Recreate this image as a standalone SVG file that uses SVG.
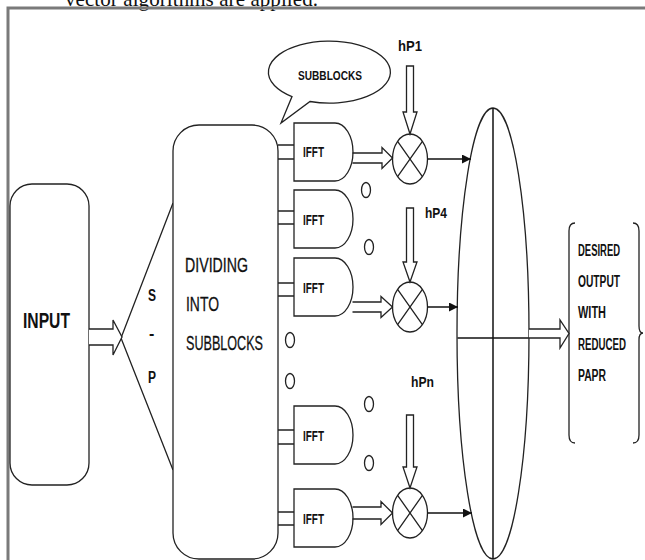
<svg xmlns="http://www.w3.org/2000/svg" width="645" height="560" viewBox="0 0 645 560">
<defs>
<style>
.s{fill:none;stroke:#222;stroke-width:1.3}
.w{fill:#fff;stroke:#222;stroke-width:1.3}
.t{font-family:"Liberation Sans",Arial,sans-serif;fill:#111}
.b{font-weight:bold}
.c{stroke:#111;stroke-width:1.5;fill:none}
</style>
<marker id="ah" viewBox="0 0 10 10" refX="10" refY="5" markerWidth="9" markerHeight="9" markerUnits="userSpaceOnUse" orient="auto">
<path d="M0,0 L10,5 L0,10 Z" fill="#111"/>
</marker>
<path id="gate" d="M0,0 H41 A18 29 0 0 1 41,58 H0 Z"/>
</defs>
<rect width="645" height="560" fill="#fff"/>
<text x="65" y="6" font-family="Liberation Serif,serif" font-size="21" textLength="253" fill="#111">vector algorithms are applied.</text>
<rect x="8" y="8" width="660" height="600" fill="none" stroke="#7a7a7a" stroke-width="3"/>

<g id="input">
<rect class="w" x="10" y="184" width="79" height="301" rx="22"/>
<text class="t b" x="23" y="328" font-size="22" textLength="47" lengthAdjust="spacingAndGlyphs">INPUT</text>
</g>

<g id="sp">
<path class="s" d="M173,203 L121,338 L173,470"/>
<text class="t b" x="148" y="301" font-size="16" textLength="8" lengthAdjust="spacingAndGlyphs">S</text>
<text class="t b" x="149" y="339" font-size="16">-</text>
<text class="t b" x="148" y="383" font-size="16" textLength="8" lengthAdjust="spacingAndGlyphs">P</text>
</g>

<g id="dividing">
<rect class="w" x="173" y="125" width="105" height="434" rx="26"/>
<text class="t" x="185" y="272" font-size="21" textLength="63" lengthAdjust="spacingAndGlyphs" stroke="#111" stroke-width="0.3">DIVIDING</text>
<text class="t" x="186" y="311" font-size="21" textLength="33" lengthAdjust="spacingAndGlyphs" stroke="#111" stroke-width="0.3">INTO</text>
<text class="t" x="186" y="350" font-size="21" textLength="77" lengthAdjust="spacingAndGlyphs" stroke="#111" stroke-width="0.3">SUBBLOCKS</text>
</g>

<g id="bubble">
<path class="w" d="M292,96.6 A61 31 0 1 1 310,101.5 L281,123 Z"/>
<text class="t b" x="298" y="80" font-size="13" textLength="64" lengthAdjust="spacingAndGlyphs">SUBBLOCKS</text>
</g>

<g id="ifft1"><use href="#gate" class="w" x="294" y="123"/><text class="t b" x="303" y="157" font-size="15" textLength="21" lengthAdjust="spacingAndGlyphs">IFFT</text></g>
<g id="ifft2"><use href="#gate" class="w" x="294" y="190"/><text class="t b" x="303" y="225" font-size="15" textLength="21" lengthAdjust="spacingAndGlyphs">IFFT</text></g>
<g id="ifft3"><use href="#gate" class="w" x="294" y="258"/><text class="t b" x="303" y="293" font-size="15" textLength="21" lengthAdjust="spacingAndGlyphs">IFFT</text></g>
<g id="ifft4"><use href="#gate" class="w" x="294" y="406"/><text class="t b" x="303" y="441" font-size="15" textLength="21" lengthAdjust="spacingAndGlyphs">IFFT</text></g>
<g id="ifft5"><use href="#gate" class="w" x="294" y="489"/><text class="t b" x="303" y="524" font-size="15" textLength="21" lengthAdjust="spacingAndGlyphs">IFFT</text></g>

<g id="dots" class="s">
<ellipse cx="366" cy="190" rx="4.5" ry="7.5"/>
<ellipse cx="369" cy="247" rx="4.5" ry="7.5"/>
<ellipse cx="290" cy="340" rx="4.5" ry="7.5"/>
<ellipse cx="290" cy="381" rx="4.5" ry="7.5"/>
<ellipse cx="369" cy="404" rx="4.5" ry="7.5"/>
<ellipse cx="369" cy="463" rx="4.5" ry="7.5"/>
</g>

<g id="mult1"><ellipse class="w" cx="410" cy="159" rx="17.5" ry="25"/><path class="s" d="M397.6,141.3 L422.4,176.7 M422.4,141.3 L397.6,176.7"/></g>
<g id="mult2"><ellipse class="w" cx="410" cy="307" rx="17.5" ry="25"/><path class="s" d="M397.6,289.3 L422.4,324.7 M422.4,289.3 L397.6,324.7"/></g>
<g id="mult3"><ellipse class="w" cx="410" cy="513" rx="17.5" ry="25"/><path class="s" d="M397.6,495.3 L422.4,530.7 M422.4,495.3 L397.6,530.7"/></g>

<g id="hp1"><text class="t b" x="398" y="51" font-size="14" textLength="24" lengthAdjust="spacingAndGlyphs">hP1</text></g>
<g id="hp4"><text class="t b" x="425" y="218" font-size="14" textLength="22" lengthAdjust="spacingAndGlyphs">hP4</text></g>
<g id="hpn"><text class="t b" x="411" y="387" font-size="14" textLength="23" lengthAdjust="spacingAndGlyphs">hPn</text></g>

<g id="sum">
<ellipse class="w" cx="493" cy="333.5" rx="36" ry="225.5"/>
<line class="c" x1="493" y1="108" x2="493" y2="559" stroke-width="1.3"/>
<line class="c" x1="457.5" y1="338" x2="528.8" y2="338" stroke-width="1.6"/>
</g>

<g id="output">
<path class="s" d="M575,223 Q569,223 569,231 V435 Q569,443 575,443"/>
<path class="s" d="M633,223 Q639,223 639,231 V326 Q639,333 643,333 Q639,333 639,340 V435 Q639,443 633,443"/>
<text class="t b" x="578" y="256" font-size="16" textLength="42" lengthAdjust="spacingAndGlyphs">DESIRED</text>
<text class="t b" x="578" y="287" font-size="16" textLength="42" lengthAdjust="spacingAndGlyphs">OUTPUT</text>
<text class="t b" x="578" y="318" font-size="16" textLength="28" lengthAdjust="spacingAndGlyphs">WITH</text>
<text class="t b" x="578" y="350" font-size="16" textLength="48" lengthAdjust="spacingAndGlyphs">REDUCED</text>
<text class="t b" x="578" y="381" font-size="16" textLength="28" lengthAdjust="spacingAndGlyphs">PAPR</text>
</g>

<g id="connectors">
<path class="s" d="M278,145 H294 M278,159 H294"/>
<path class="s" d="M278,211 H294 M278,224 H294"/>
<path class="s" d="M278,283 H294 M278,296 H294"/>
<path class="s" d="M278,430 H294 M278,444 H294"/>
<path class="s" d="M278,512 H294 M278,525 H294"/>
<path class="w" d="M89,329 H113 V320 L122,337 L113,355 V345 H89"/>
<path class="s" d="M352.5,153 H382 V147.5 L392.5,158 L382,168.5 V163 H352.5"/>
<path class="s" d="M352.5,302 H381 V296.5 L392.5,307 L381,317.5 V312 H352.5"/>
<path class="s" d="M352.5,507 H381 V501.5 L392.5,513 L381,524.5 V519 H352.5"/>
<path class="w" d="M406.5,66 V112 H403 L410,134 L417,112 H413.5 V66 Z"/>
<path class="w" d="M406.5,208 V262 H403 L410,282 L417,262 H413.5 V208 Z"/>
<path class="w" d="M406.5,415 V467 H403 L410,488 L417,467 H413.5 V415 Z"/>
<line class="c" x1="427.5" y1="159" x2="471" y2="159" marker-end="url(#ah)"/>
<line class="c" x1="427.5" y1="307" x2="458" y2="307" marker-end="url(#ah)"/>
<line class="c" x1="427.5" y1="513" x2="472" y2="513" marker-end="url(#ah)"/>
<path class="w" d="M529,329 H560 V320 L569,333.5 L560,348 V338 H529"/>
</g>
</svg>
